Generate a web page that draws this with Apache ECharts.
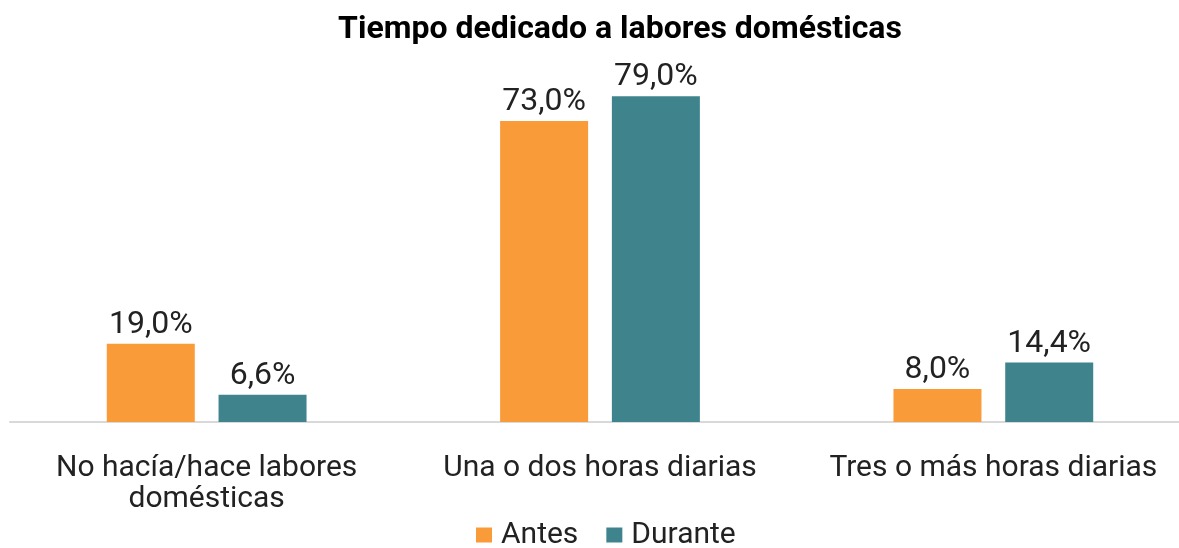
<!DOCTYPE html>
<html>
<head>
<meta charset="utf-8">
<script src="https://cdn.jsdelivr.net/npm/echarts@6/dist/echarts.min.js"></script>
<style>
  html, body { margin: 0; padding: 0; background: #fff; }
  #chart { width: 1179px; height: 548px; }
</style>
</head>
<body>
<div id="chart"></div>
<script>
// datos
var categories = ["No hacía/hace labores\ndomésticas", "Una o dos horas diarias", "Tres o más horas diarias"];
var antes = [19.0, 73.0, 8.0];
var durante = [6.6, 79.0, 14.4];
var seriesNames = ["Antes", "Durante"];

var chart = echarts.init(document.getElementById("chart"));

function pct(p) {
  return p.value.toFixed(1).replace(".", ",") + "%";
}

var labelStyle = {
  show: true,
  position: "top",
  distance: 3,
  formatter: pct,
  color: "#222",
  fontSize: 32,
  fontFamily: "Roboto"
};

chart.setOption({
  animation: false,
  title: {
    text: "Tiempo dedicado a labores domésticas",
    left: 615,
    textAlign: "center",
    top: 9,
    textStyle: { fontFamily: "Roboto", fontWeight: "bold", fontSize: 32, color: "#000" }
  },
  legend: {
    data: seriesNames,
    left: 471,
    top: 515,
    itemWidth: 16,
    itemHeight: 15,
    itemGap: 28,
    icon: "rect",
    textStyle: { fontFamily: "Roboto", fontSize: 30, color: "#222", padding: [0, 0, 0, 4] }
  },
  grid: { left: 10, top: 92, width: 1180, bottom: 126, outerBoundsMode: "none" },
  xAxis: {
    type: "category",
    data: categories,
    axisLine: { lineStyle: { color: "#d9d9d9", width: 2 } },
    axisTick: { show: false },
    axisLabel: {
      color: "#222",
      fontSize: 30,
      fontFamily: "Roboto",
      margin: 31,
      lineHeight: 31,
      interval: 0
    }
  },
  yAxis: {
    type: "value",
    min: 0,
    max: 80,
    show: false
  },
  series: [
    {
      name: seriesNames[0],
      type: "bar",
      data: antes,
      barWidth: 88,
      barGap: "27%",
      itemStyle: { color: "#fa9b3a" },
      label: labelStyle
    },
    {
      name: seriesNames[1],
      type: "bar",
      data: durante,
      barWidth: 88,
      itemStyle: { color: "#3f848d" },
      label: labelStyle
    }
  ]
});
</script>
</body>
</html>
